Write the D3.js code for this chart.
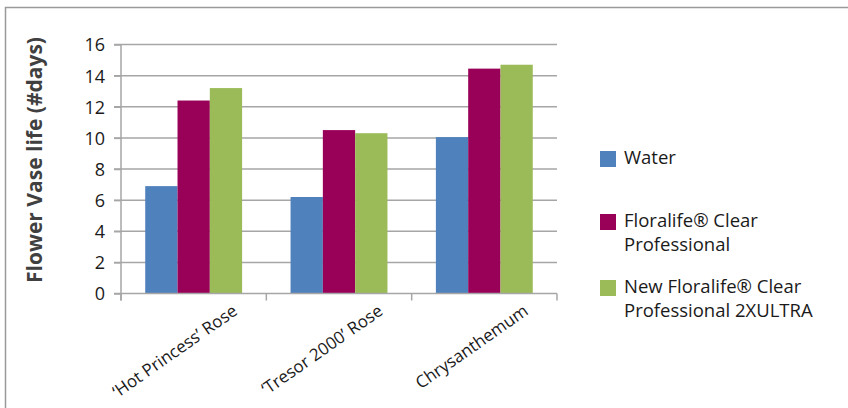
<!DOCTYPE html>
<html>
<head>
<meta charset="utf-8">
<script src="https://cdn.jsdelivr.net/npm/d3@7"></script>
<style>
  body { margin: 0; background: #fff; }
  text { font-family: "Open Sans", sans-serif; fill: #1a1a1a; }
</style>
</head>
<body>
<svg id="chart" width="848" height="408"></svg>
<script>
const categories = ["\u2018Hot Princess\u2019 Rose", "\u2018Tresor 2000\u2019 Rose", "Chrysanthemum"];
const seriesNames = [
  ["Water"],
  ["Floralife\u00ae Clear", "Professional"],
  ["New Floralife\u00ae Clear", "Professional 2XULTRA"]
];
const water = [6.9, 6.2, 10.05];
const clearPro = [12.4, 10.5, 14.45];
const ultra = [13.2, 10.3, 14.7];
const colors = ["#4f81bd", "#990058", "#9bbb59"];
const yTicks = [0, 2, 4, 6, 8, 10, 12, 14, 16];

const series = [water, clearPro, ultra];

const svg = d3.select('#chart');

// outer frame
svg.append('rect')
  .attr('x', 5.5).attr('y', 7.5)
  .attr('width', 900).attr('height', 500)
  .attr('fill', 'none')
  .attr('stroke', '#9a9a9a')
  .attr('stroke-width', 1.5);

const plotL = 121, plotR = 557, plotT = 44.5, plotB = 293.5;

const x0 = d3.scaleBand().domain(categories).range([plotL, plotR]).paddingInner(0).paddingOuter(0);
const x1 = d3.scaleBand().domain([0, 1, 2]).range([0, x0.bandwidth()]).paddingOuter(0.75).paddingInner(0);
const y = d3.scaleLinear().domain([0, 16]).range([plotB, plotT]);

// gridlines
svg.append('g')
  .selectAll('line')
  .data(yTicks.slice(1))
  .join('line')
  .attr('x1', plotL - 7).attr('x2', plotR)
  .attr('y1', d => y(d)).attr('y2', d => y(d))
  .attr('stroke', '#a6a6a6')
  .attr('stroke-width', 1.5);

// bars
svg.append('g')
  .selectAll('g')
  .data(series)
  .join('g')
  .attr('fill', (d, i) => colors[i])
  .each(function(vals, si) {
    d3.select(this).selectAll('rect')
      .data(vals)
      .join('rect')
      .attr('x', (v, ci) => x0(categories[ci]) + x1(si))
      .attr('width', x1.bandwidth())
      .attr('y', v => y(v))
      .attr('height', v => y(0) - y(v));
  });

// y axis
const yAxis = svg.append('g')
  .attr('transform', `translate(${plotL},0)`)
  .call(d3.axisLeft(y).tickValues(yTicks).tickSize(7).tickPadding(9));
yAxis.select('.domain').remove();
yAxis.append('line').attr('x1', 0).attr('x2', 0).attr('y1', plotT).attr('y2', plotB + 7)
  .attr('stroke', '#a6a6a6').attr('stroke-width', 1.5);
yAxis.selectAll('.tick line').attr('stroke', '#a6a6a6').attr('stroke-width', 1.5);
yAxis.selectAll('.tick text').style('font-size', '18px').attr('fill', '#1a1a1a').attr('dy', '0.36em');

// x axis
const xAxis = svg.append('g').attr('transform', `translate(0,${plotB})`);
xAxis.append('line').attr('x1', plotL - 7).attr('x2', plotR).attr('y1', 0).attr('y2', 0)
  .attr('stroke', '#a6a6a6').attr('stroke-width', 1.5);
xAxis.selectAll('.xt')
  .data(d3.range(categories.length + 1))
  .join('line')
  .attr('x1', i => plotL + i * x0.bandwidth())
  .attr('x2', i => plotL + i * x0.bandwidth())
  .attr('y1', 0).attr('y2', 7)
  .attr('stroke', '#a6a6a6').attr('stroke-width', 1.5);
xAxis.selectAll('text')
  .data(categories)
  .join('text')
  .attr('transform', d => `translate(${x0(d) + x0.bandwidth() / 2 + 45},${20}) rotate(-35)`)
  .attr('text-anchor', 'end')
  .style('font-size', '17px')
  .text(d => d);

// y title
svg.append('text')
  .attr('transform', 'translate(42,160) rotate(-90)')
  .attr('text-anchor', 'middle')
  .style('font-size', '21px')
  .style('font-weight', 'bold')
  .style('fill', '#404040')
  .text('Flower Vase life (#days)');

// legend
const legendY = [151, 214, 280];
const leg = svg.append('g').selectAll('g')
  .data(seriesNames)
  .join('g')
  .attr('transform', (d, i) => `translate(600,${legendY[i]})`);
leg.append('rect').attr('width', 16).attr('height', 16).attr('fill', (d, i) => colors[i]);
leg.each(function(lines) {
  d3.select(this).selectAll('text')
    .data(lines)
    .join('text')
    .attr('x', 24)
    .attr('y', (l, j) => 13 + j * 24)
    .style('font-size', '18.5px')
    .text(l => l);
});
</script>
</body>
</html>
